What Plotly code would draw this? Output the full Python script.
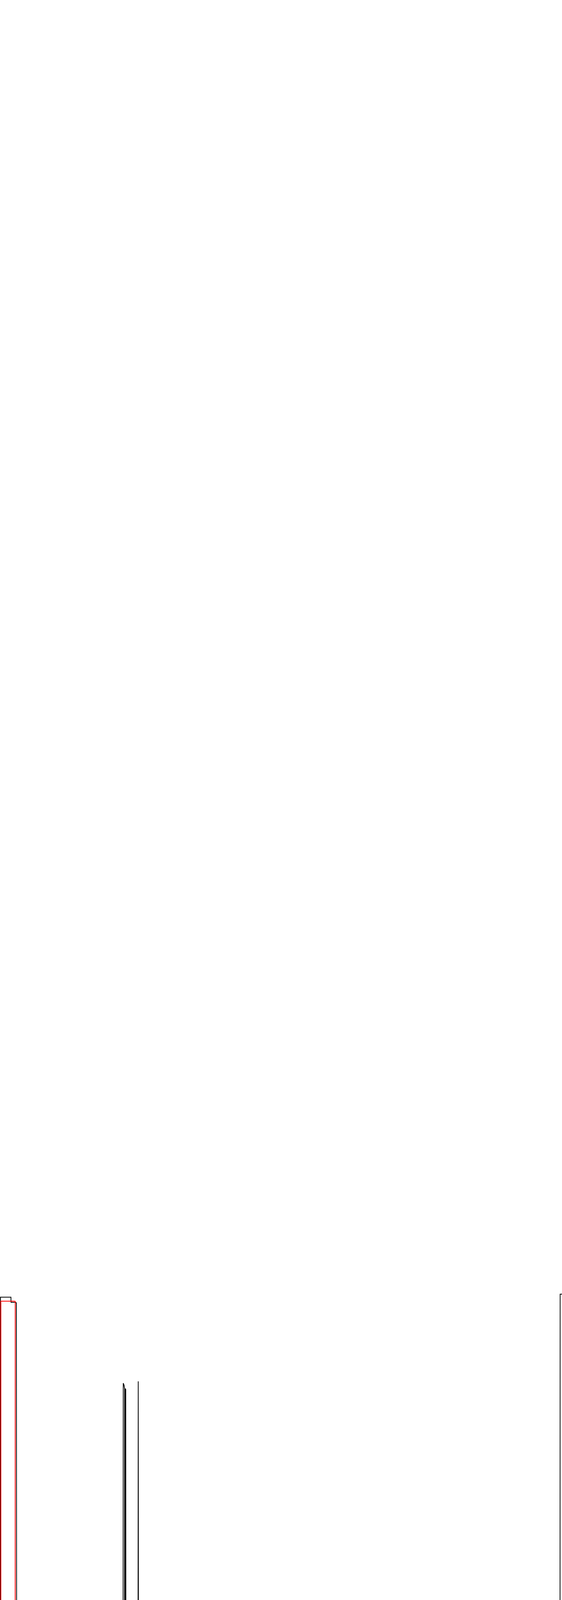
import plotly.graph_objects as go

# black trace: flat at zero with a few narrow peaks
black_x = [0, 1.2, 28, 28.3, 40.5, 42, 43.7,
           314.2, 315.8, 317.8, 319.3, 318.8,
           320.8, 321.2, 322.2, 323.4, 324.4, 325, 325.5, 326.3,
           352.4, 354.2, 356,
           1434.3, 1435.3, 1450]
black_y = [0, 446.2, 446.2, 444.0, 444.0, 443.7, 0,
           0, 409.5, 408.7, 407.2, 0,
           0, 407.2, 406.8, 0, 0, 6.7, 4.7, 0,
           0, 410.3, 0,
           0, 447.5, 447.5]

# red outline drawn round the first peak
red_x = [2.2, 2.2, 38.5, 39, 38.7, 2.2]
red_y = [0, 444.5, 444.5, 444.2, 0, 0]

fig = go.Figure()
fig.add_trace(go.Scatter(x=black_x, y=black_y, mode='lines', line=dict(color='black', width=2)))
fig.add_trace(go.Scatter(x=red_x, y=red_y, mode='lines', line=dict(color='red', width=2)))

fig.update_layout(width=1440, height=6000, showlegend=False,
                  margin=dict(l=0, r=0, t=0, b=0),
                  paper_bgcolor='white', plot_bgcolor='white')
fig.update_xaxes(range=[0, 1440], visible=False)
fig.update_yaxes(range=[-0.333, 999.667], visible=False)

fig.write_html("out.html", config={'displayModeBar': False},
               post_script="document.body.style.margin = '0';")
